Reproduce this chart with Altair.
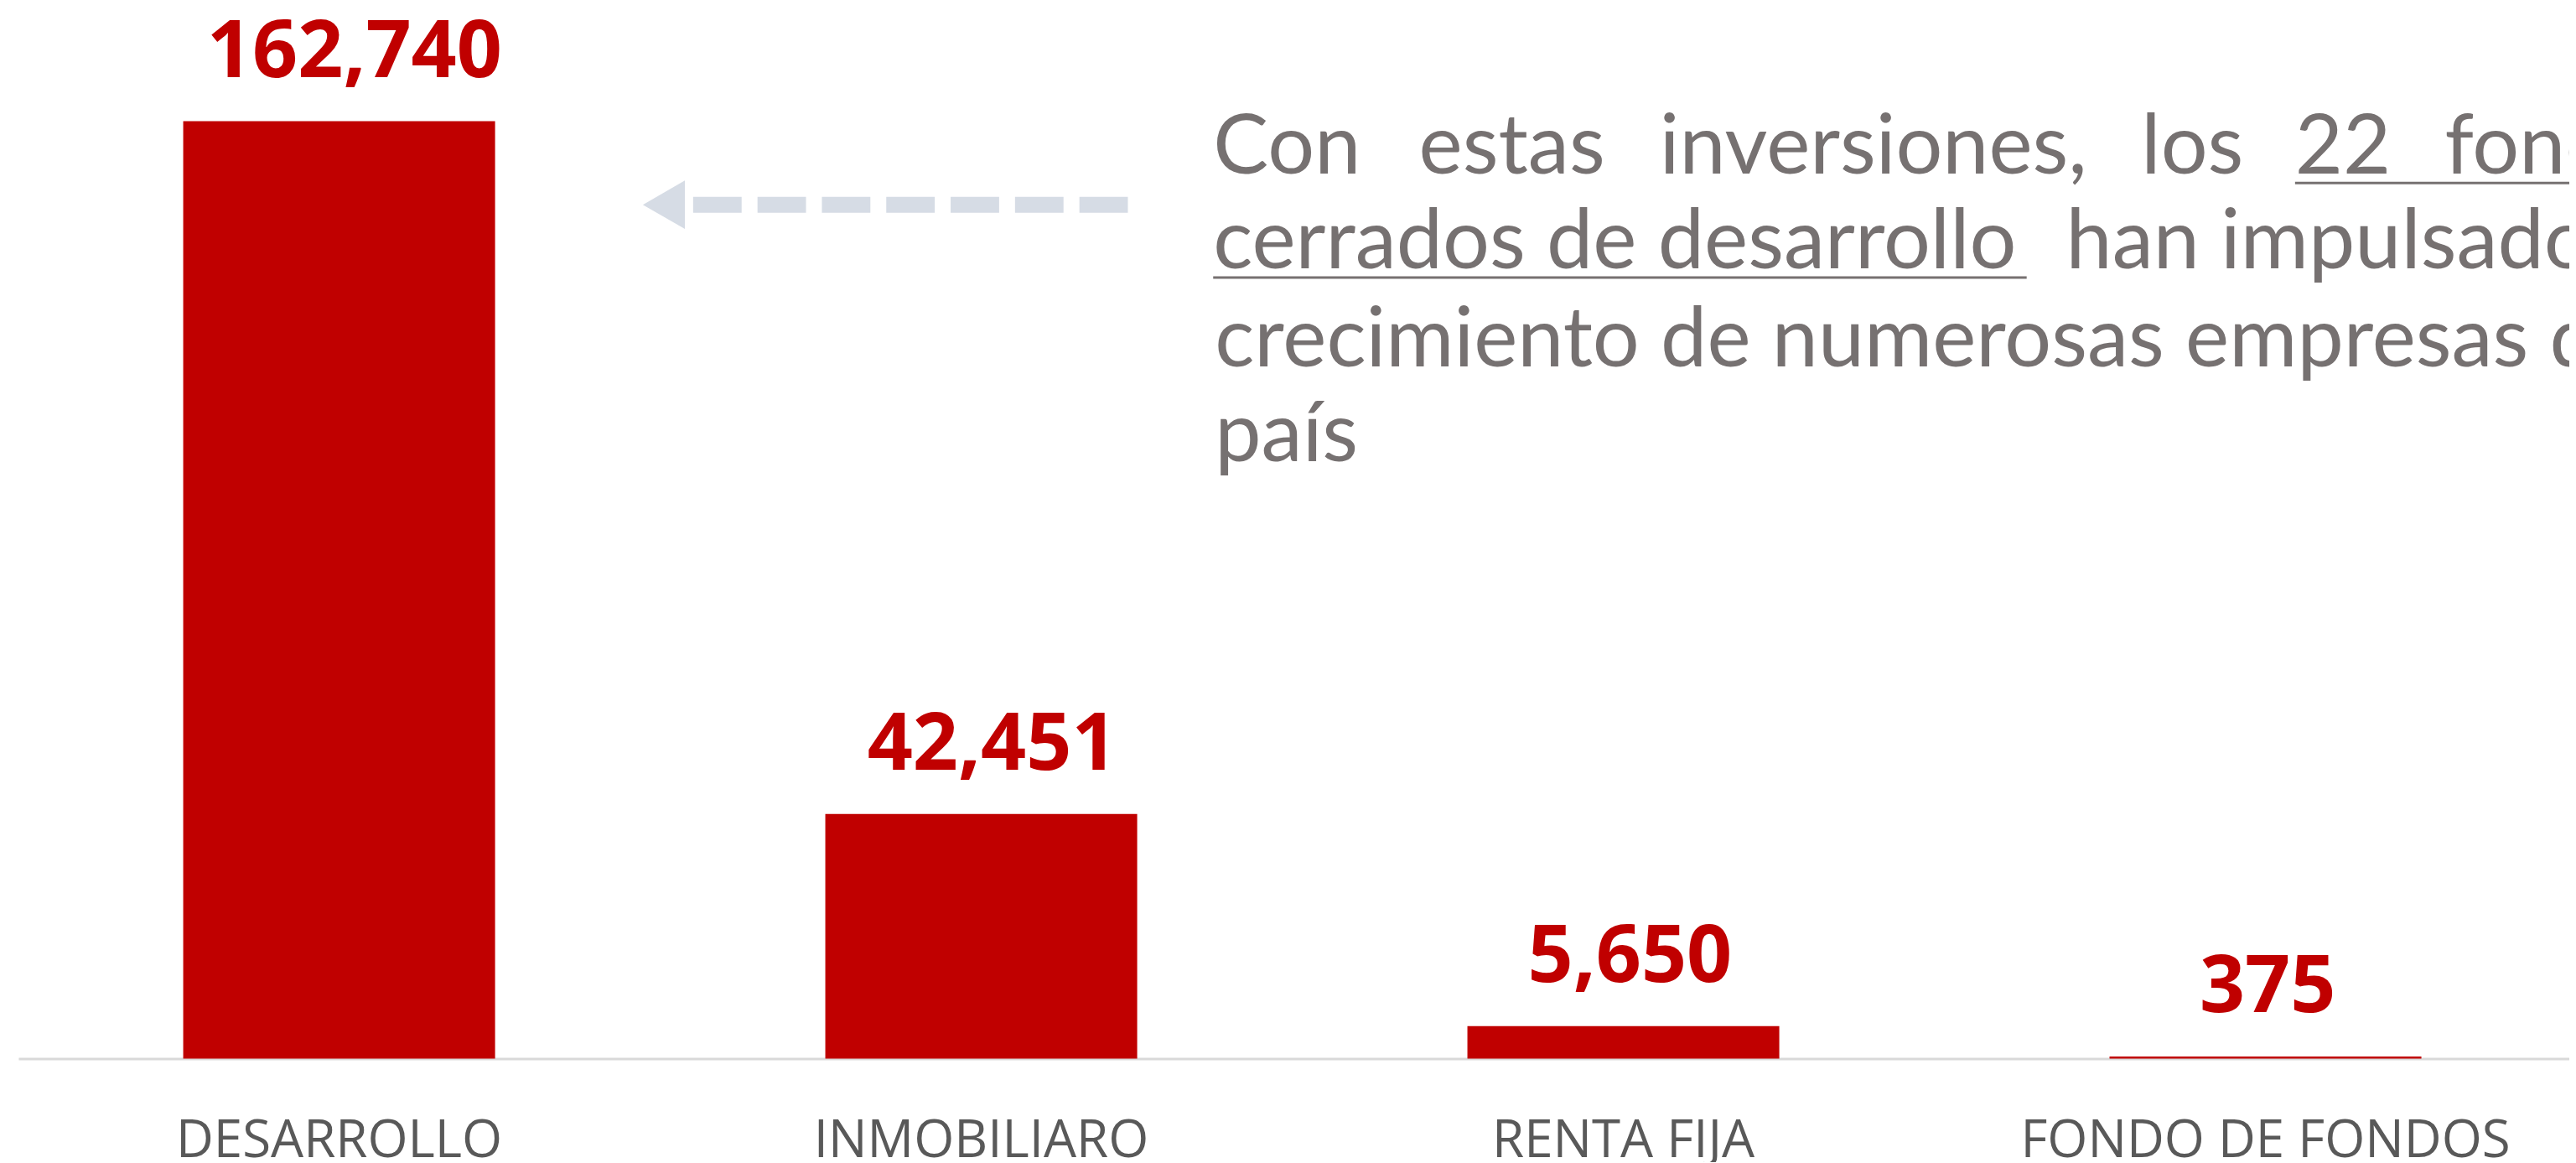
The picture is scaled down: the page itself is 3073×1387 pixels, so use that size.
import altair as alt
import pandas as pd

# ---- data ----
categories = ["DESARROLLO", "INMOBILIARO", "RENTA FIJA", "FONDO DE FONDOS"]
values = [162740, 42451, 5650, 375]

# annotation text (pieces per line)
note_line1 = ["Con", "estas", "inversiones,", "los", "22", "fondos"]
note_line2 = ["cerrados de desarrollo", "han impulsado el"]
note_line3 = ["crecimiento de numerosas empresas del"]
note_line4 = ["país"]

# ---- layout (pixels inside the plot area) ----
line1_x = [1429, 1675, 1963, 2539, 2723, 2902]
line2_x = [1429, 2449]
line_x0 = 1431
line_y = [63, 176, 293, 407]

RED = "#C00000"
GREY_TXT = "#767171"
ARROW = "#D6DCE5"

df = pd.DataFrame({"category": categories, "value": values})

rows = []
for t, x in zip(note_line1, line1_x):
    rows.append({"text": t, "px": x, "py": line_y[0]})
for t, x in zip(note_line2, line2_x):
    rows.append({"text": t, "px": x, "py": line_y[1]})
for t in note_line3:
    rows.append({"text": t, "px": line_x0, "py": line_y[2]})
for t in note_line4:
    rows.append({"text": t, "px": line_x0, "py": line_y[3]})
note_df = pd.DataFrame(rows)
one = pd.DataFrame({"k": [0]})

x_scale = alt.Scale(paddingInner=0.5143, paddingOuter=0.2435, align=0.527)
x_axis = alt.Axis(
    labelAngle=0,
    labelFont="Open Sans",
    labelFontSize=62,
    labelColor="#595959",
    labelBaseline="alphabetic",
    labelPadding=117,
    labelLimit=2000,
    ticks=False,
    tickSize=0,
    domainColor="#D9D9D9",
    domainWidth=3,
    grid=False,
)
y_enc = alt.Y(
    "value:Q",
    scale=alt.Scale(domain=[0, 162740], nice=False, zero=True),
    axis=None,
)

base = alt.Chart(df)
bars = base.mark_bar(color=RED).encode(
    x=alt.X("category:N", sort=categories, title=None, scale=x_scale, axis=x_axis),
    y=y_enc,
)
labels = base.mark_text(
    dy=-53, baseline="alphabetic", align="center",
    font="Open Sans", fontWeight="bold", fontSize=95, color=RED,
).encode(
    x=alt.X("category:N", sort=categories, title=None, scale=x_scale, axis=None),
    y=y_enc,
    text=alt.Text("value:Q", format=","),
)

note = alt.Chart(note_df).mark_text(
    align="left", baseline="alphabetic", font="Lato",
    fontSize=99, color=GREY_TXT,
).encode(
    x=alt.X("px:Q", scale=None, axis=None),
    y=alt.Y("py:Q", scale=None, axis=None),
    text="text:N",
)

underline1 = alt.Chart(one).mark_rule(color=GREY_TXT, strokeWidth=3).encode(
    x=alt.value(2723), x2=alt.value(3070), y=alt.value(74)
)
underline2 = alt.Chart(one).mark_rule(color=GREY_TXT, strokeWidth=3).encode(
    x=alt.value(1429), x2=alt.value(2402), y=alt.value(187)
)

arrow_line = alt.Chart(one).mark_rule(
    color=ARROW, strokeWidth=19, strokeDash=[58, 19], strokeCap="butt"
).encode(x=alt.value(807), x2=alt.value(1328), y=alt.value(100))
arrow_head = alt.Chart(one).mark_point(
    shape="triangle-left", size=3364, filled=True, color=ARROW, opacity=1, strokeWidth=0
).encode(x=alt.value(772), y=alt.value(100))

chart = (
    alt.layer(bars, labels, note, underline1, underline2, arrow_line, arrow_head)
    .resolve_scale(x="independent", y="independent")
    .properties(
        width=3051,
        height=1121,
        padding={"left": 14, "top": 135, "right": 0, "bottom": 122},
        autosize=alt.AutoSizeParams(type="none"),
        background="white",
    )
    .configure_view(strokeWidth=0)
)

chart.save("out.html", embed_options={"renderer": "svg", "actions": False})
